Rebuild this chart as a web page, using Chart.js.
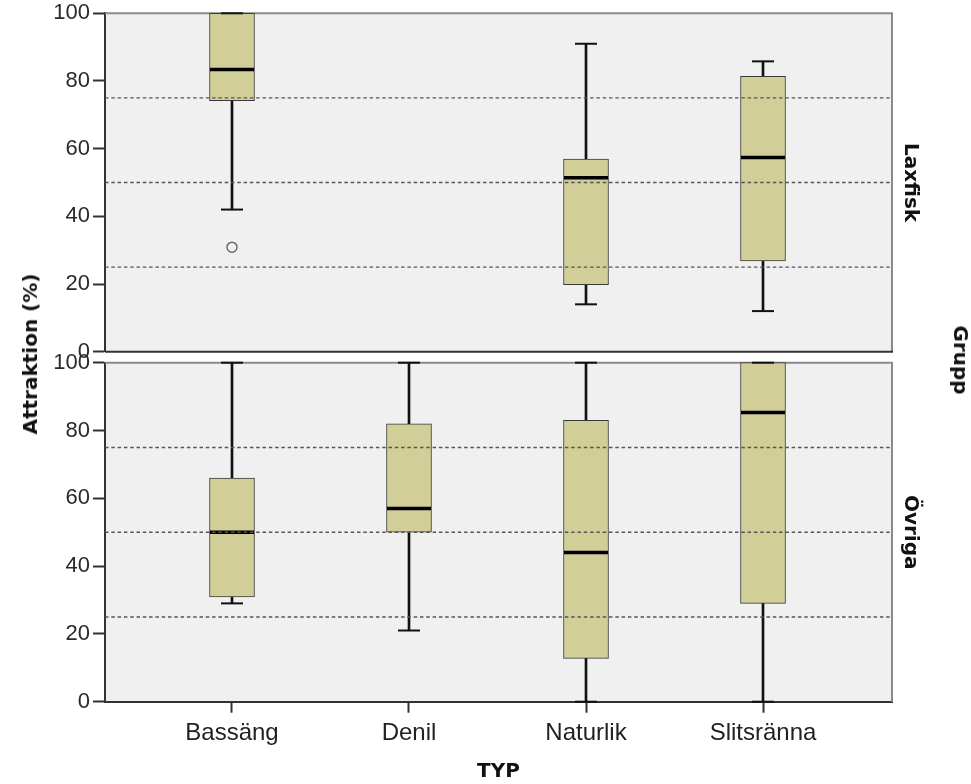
<!DOCTYPE html>
<html><head><meta charset="utf-8">
<script src="https://cdn.jsdelivr.net/npm/chart.js@4.4.1/dist/chart.umd.min.js"></script>
<style>
html,body{margin:0;padding:0;background:#fff;width:971px;height:784px;overflow:hidden}
#wrap{position:relative;width:971px;height:784px;overflow:hidden}
canvas{position:absolute;left:0}
#c1{top:-40px}
#c2{top:-40px}
.lbl{position:absolute;font-family:"DejaVu Sans",sans-serif;font-weight:bold;font-size:20px;color:#111;white-space:nowrap;line-height:24px}
</style></head><body>
<div id="wrap">
<canvas id="c1" width="971" height="864"></canvas>
<canvas id="c2" width="971" height="824"></canvas>
<div class="lbl" style="left:30px;top:354px;transform:translate(-50%,-50%) rotate(-90deg)">Attraktion (%)</div>
<div class="lbl" style="left:961px;top:360px;transform:translate(-50%,-50%) rotate(90deg)">Grupp</div>
</div>
<script>
const categories = ['Bassäng', 'Denil', 'Naturlik', 'Slitsränna'];
const groups = ['Laxfisk', 'Övriga'];
const yTicks = [0, 20, 40, 60, 80, 100];
const refLines = [25, 50, 75];

// Laxfisk (no Denil data)
const laxMin      = [42,   null, 14,   12];
const laxQ1       = [74.2, null, 19.8, 26.8];
const laxMedian   = [83.4, null, 51.4, 57.4];
const laxQ3       = [100,  null, 56.9, 81.4];
const laxMax      = [100,  null, 91,   85.8];
const laxOutliers = [[30.9], [], [], []];

// Övriga
const ovrMin      = [29,   21, 0,    0];
const ovrQ1       = [30.9, 50, 12.8, 29];
const ovrMedian   = [50,   57, 44,   85.3];
const ovrQ3       = [66,   82, 83,   100];
const ovrMax      = [100, 100, 100,  100];
const ovrOutliers = [[], [], [], []];

const xMin = 0.2825, xMax = 4.7288;
const BOX_FILL = '#D2CE98';
const CANVAS_SHIFT = 40; // canvases start 40px above the page

function buildDatasets(mn, q1, med, q3, mx, outl) {
  const idx = categories.map((c, i) => i).filter(i => med[i] !== null);
  const common = {xAxisID: 'x', yAxisID: 'y', clip: false};
  const ds = [
    Object.assign({type: 'bar', data: idx.map(i => ({x: i + 1, y: [mn[i], q1[i]]})),
      barThickness: 2, backgroundColor: '#111', borderWidth: 0, grouped: false, order: 6}, common),
    Object.assign({type: 'bar', data: idx.map(i => ({x: i + 1, y: [q3[i], mx[i]]})),
      barThickness: 2, backgroundColor: '#111', borderWidth: 0, grouped: false, order: 6}, common),
    Object.assign({type: 'bar', data: idx.map(i => ({x: i + 1, y: [q1[i], q3[i]]})),
      barThickness: 45, backgroundColor: BOX_FILL, borderColor: '#3a3a3a', borderWidth: 1,
      borderSkipped: false, grouped: false, order: 5}, common),
    Object.assign({type: 'scatter', data: idx.flatMap(i => [{x: i + 1, y: mn[i]}, {x: i + 1, y: mx[i]}]),
      pointStyle: 'line', pointRadius: 11, pointBorderWidth: 2, pointBorderColor: '#111', order: 4}, common),
    Object.assign({type: 'scatter', data: idx.map(i => ({x: i + 1, y: med[i]})),
      pointStyle: 'line', pointRadius: 22, pointBorderWidth: 3.5, pointBorderColor: '#000', order: 2}, common),
    Object.assign({type: 'scatter', data: categories.flatMap((c, i) => outl[i].map(v => ({x: i + 1, y: v}))),
      pointStyle: 'circle', pointRadius: 5, pointBorderWidth: 1.5, pointBorderColor: '#6a6a6a',
      pointBackgroundColor: 'rgba(0,0,0,0)', order: 3}, common)
  ];
  refLines.forEach(v => ds.push({type: 'line', xAxisID: 'x', yAxisID: 'y',
    data: [{x: xMin, y: v}, {x: xMax, y: v}], borderColor: '#555', borderWidth: 1.4,
    borderDash: [3.5, 2.8], pointRadius: 0, order: 1}));
  return ds;
}

const framePlugin = {
  id: 'frame',
  beforeDraw(chart) {
    const {ctx, chartArea: a} = chart;
    ctx.save();
    ctx.fillStyle = '#F0F0F0';
    ctx.fillRect(a.left, a.top, a.right - a.left, a.bottom - a.top);
    ctx.restore();
  },
  beforeDatasetsDraw(chart) {
    const {ctx, chartArea: a} = chart;
    ctx.save();
    ctx.strokeStyle = '#8a8a8a';
    ctx.lineWidth = 2;
    ctx.beginPath();
    ctx.moveTo(a.left, a.top); ctx.lineTo(a.right, a.top); ctx.lineTo(a.right, a.bottom);
    ctx.stroke();
    if (!chart.options.scales.x.display) {
      ctx.strokeStyle = '#333';
      ctx.beginPath(); ctx.moveTo(a.left, a.bottom); ctx.lineTo(a.right + 1, a.bottom); ctx.stroke();
    }
    ctx.restore();
  }
};

function makeChart(id, group, datasets, target, showX) {
  const canvas = document.getElementById(id);
  const H = canvas.height;
  const pad = {left: 0, right: 0, top: target.top + CANVAS_SHIFT,
               bottom: showX ? 0 : H - (target.bottom + CANVAS_SHIFT)};
  const chart = new Chart(canvas, {
    type: 'bar',
    data: {datasets},
    plugins: [framePlugin],
    options: {
      responsive: false, animation: false, devicePixelRatio: 1,
      layout: {padding: pad},
      plugins: {legend: {display: false}, tooltip: {enabled: false}},
      scales: {
        x: {
          type: 'linear', min: xMin, max: xMax, display: showX, offset: false,
          afterBuildTicks: s => { s.ticks = categories.map((c, i) => ({value: i + 1})); },
          afterFit: s => { if (showX) s.height = 82.3; },
          ticks: {autoSkip: false, maxRotation: 0, padding: 6, color: '#222',
            font: {family: 'Arial, "Liberation Sans", sans-serif', size: 24},
            callback: v => categories[v - 1] || ''},
          grid: {display: true, offset: false, drawOnChartArea: false, tickLength: 11, tickColor: '#333', tickWidth: 2},
          border: {display: true, color: '#333', width: 2},
          title: {display: true, text: 'TYP', color: '#111', padding: {top: 0, bottom: 0},
            font: {family: '"DejaVu Sans", sans-serif', weight: 'bold', size: 20}}
        },
        y: {
          type: 'linear', min: 0, max: 100, position: 'left',
          afterBuildTicks: s => { s.ticks = yTicks.map(v => ({value: v})); },
          afterFit: s => { s.width = 105; },
          ticks: {padding: 3, color: '#2a2a2a', font: {family: 'Arial, "Liberation Sans", sans-serif', size: 22}},
          grid: {drawOnChartArea: false, tickLength: 12, tickColor: '#333', tickWidth: 2},
          border: {display: true, color: '#333', width: 2}
        },
        y2: {
          type: 'linear', min: 0, max: 100, position: 'right',
          afterFit: s => { s.width = 79; },
          ticks: {display: false}, grid: {display: false}, border: {display: false},
          title: {display: true, text: group, color: '#111', padding: {top: 49, bottom: 0},
            font: {family: '"DejaVu Sans", sans-serif', weight: 'bold', size: 20}}
        }
      }
    }
  });
  // fine-tune vertical placement of the plot area
  for (let k = 0; k < 2; k++) {
    const a = chart.chartArea;
    const dTop = (target.top + CANVAS_SHIFT) - a.top;
    const dBot = (target.bottom + CANVAS_SHIFT) - a.bottom;
    if (Math.abs(dTop) < 0.2 && Math.abs(dBot) < 0.2) break;
    pad.top += dTop;
    if (!showX) pad.bottom -= dBot;
    chart.options.layout.padding = Object.assign({}, pad);
    chart.update();
  }
  return chart;
}

makeChart('c1', groups[0], buildDatasets(laxMin, laxQ1, laxMedian, laxQ3, laxMax, laxOutliers), {top: 13.3, bottom: 351.7}, false);
makeChart('c2', groups[1], buildDatasets(ovrMin, ovrQ1, ovrMedian, ovrQ3, ovrMax, ovrOutliers), {top: 362.7, bottom: 701.7}, true);
</script>
</body></html>
